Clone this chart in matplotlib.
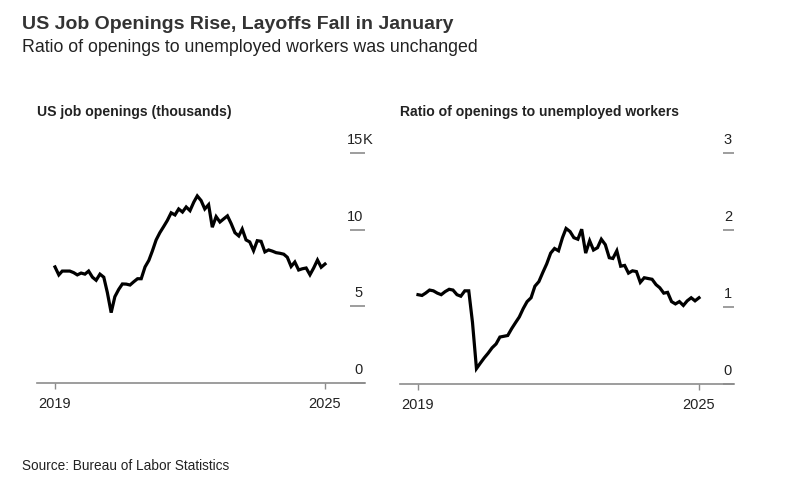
import numpy as np
import pandas as pd
import matplotlib
matplotlib.use('Agg')
import matplotlib.pyplot as plt
import matplotlib.dates as mdates
from matplotlib.transforms import blended_transform_factory, offset_copy

plt.rcParams['font.family'] = ['Liberation Sans', 'DejaVu Sans']

# datos mensuales ene 2019 - ene 2025
fechas = pd.date_range('2019-01-01', '2025-01-01', freq='MS')

# ofertas de empleo (millones)
ofertas = [7.57, 7.05, 7.30, 7.30, 7.30, 7.20, 7.05, 7.17, 7.10, 7.30, 6.90, 6.70,
           7.10, 6.90, 5.90, 4.59, 5.63, 6.10, 6.46, 6.45, 6.39, 6.60, 6.80, 6.80,
           7.57, 8.00, 8.60, 9.33, 9.80, 10.20, 10.60, 11.10, 10.96, 11.35, 11.15, 11.48,
           11.24, 11.80, 12.20, 11.90, 11.35, 11.63, 10.16, 10.85, 10.50, 10.70, 10.90, 10.40,
           9.80, 9.59, 10.04, 9.33, 9.20, 8.63, 9.28, 9.24, 8.55, 8.68, 8.60, 8.50,
           8.46, 8.40, 8.20, 7.60, 7.89, 7.37, 7.45, 7.50, 7.06, 7.50, 8.02, 7.55,
           7.76]

# ratio ofertas / desempleados
ratio = [1.16, 1.15, 1.18, 1.22, 1.21, 1.18, 1.16, 1.20, 1.23, 1.22, 1.16, 1.14,
         1.21, 1.21, 0.80, 0.20, 0.27, 0.34, 0.40, 0.47, 0.52, 0.61, 0.62, 0.63,
         0.72, 0.80, 0.87, 0.98, 1.07, 1.12, 1.27, 1.33, 1.45, 1.56, 1.70, 1.76,
         1.73, 1.90, 2.02, 1.98, 1.90, 1.88, 2.01, 1.70, 1.86, 1.74, 1.77, 1.88,
         1.81, 1.64, 1.63, 1.73, 1.53, 1.54, 1.44, 1.47, 1.46, 1.32, 1.38, 1.37,
         1.36, 1.29, 1.25, 1.18, 1.19, 1.07, 1.04, 1.07, 1.02, 1.08, 1.12, 1.08,
         1.12]

ticks_izq = [0, 5, 10, 15]
etiq_izq = ['0', '5', '10', '15']
ticks_der = [0, 1, 2, 3]
etiq_der = ['0', '1', '2', '3']
anios = ['2019', '2025']

W, H = 799, 488
fig = plt.figure(figsize=(W / 100, H / 100), dpi=100)

GRIS = '#8c8c8c'
TEXTO = '#222222'


def panel(x0, x1, y0, y1, t2019, t2025, valores, ticks, etiquetas, sufijo, ymax, largo):
    ax = fig.add_axes([x0 / W, 1 - y1 / H, (x1 - x0) / W, (y1 - y0) / H])
    d0 = mdates.date2num(pd.Timestamp('2019-01-01'))
    d1 = mdates.date2num(pd.Timestamp('2025-01-01'))
    px_dia = (t2025 - t2019) / (d1 - d0)
    ax.set_xlim(d0 - (t2019 - x0) / px_dia, d1 + (x1 - t2025) / px_dia)
    ax.set_ylim(0, ymax)
    ax.plot(fechas, valores, color='black', lw=2.3, solid_joinstyle='miter', clip_on=False)

    for s in ['top', 'left', 'right']:
        ax.spines[s].set_visible(False)
    ax.spines['bottom'].set_color(GRIS)
    ax.spines['bottom'].set_linewidth(1.2)

    ax.set_xticks([d0, d1])
    ax.set_xticklabels(anios)
    ax.tick_params(axis='x', length=4, width=1, color=GRIS, labelsize=10.5,
                   labelcolor=TEXTO, pad=6)

    ax.yaxis.tick_right()
    ax.set_yticks(ticks)
    ax.tick_params(axis='y', direction='in', length=largo, width=1.2, color=GRIS,
                   labelright=False, pad=0)

    trans = offset_copy(blended_transform_factory(ax.transAxes, ax.transData),
                        fig=fig, x=-2, y=6, units='dots')
    for v, e in zip(ticks, etiquetas):
        ax.text(1, v, e, transform=trans, ha='right', va='bottom',
                fontsize=10.5, color=TEXTO)
    if sufijo:
        ax.text(1, ticks[-1], sufijo, transform=trans, ha='left', va='bottom',
                fontsize=10.5, color=TEXTO)
    ax.set_facecolor('none')
    return ax


panel(37, 365, 153, 383, 55, 325, ofertas, ticks_izq, etiq_izq, 'K', 15, 11)
panel(400, 734, 153, 384, 418, 699, ratio, ticks_der, etiq_der, '', 3, 8)

fig.text(22 / W, 1 - 29 / H, 'US Job Openings Rise, Layoffs Fall in January',
         fontsize=14.0, fontweight='bold', color='#333333', va='baseline')
fig.text(22 / W, 1 - 52 / H, 'Ratio of openings to unemployed workers was unchanged',
         fontsize=12.8, color=TEXTO, va='baseline')
fig.text(37 / W, 1 - 116 / H, 'US job openings (thousands)',
         fontsize=10.1, fontweight='bold', color=TEXTO, va='baseline')
fig.text(400 / W, 1 - 116 / H, 'Ratio of openings to unemployed workers',
         fontsize=10.1, fontweight='bold', color=TEXTO, va='baseline')
fig.text(22 / W, 1 - 470 / H, 'Source: Bureau of Labor Statistics',
         fontsize=9.8, color=TEXTO, va='baseline')

fig.savefig('out.png', dpi=100)
